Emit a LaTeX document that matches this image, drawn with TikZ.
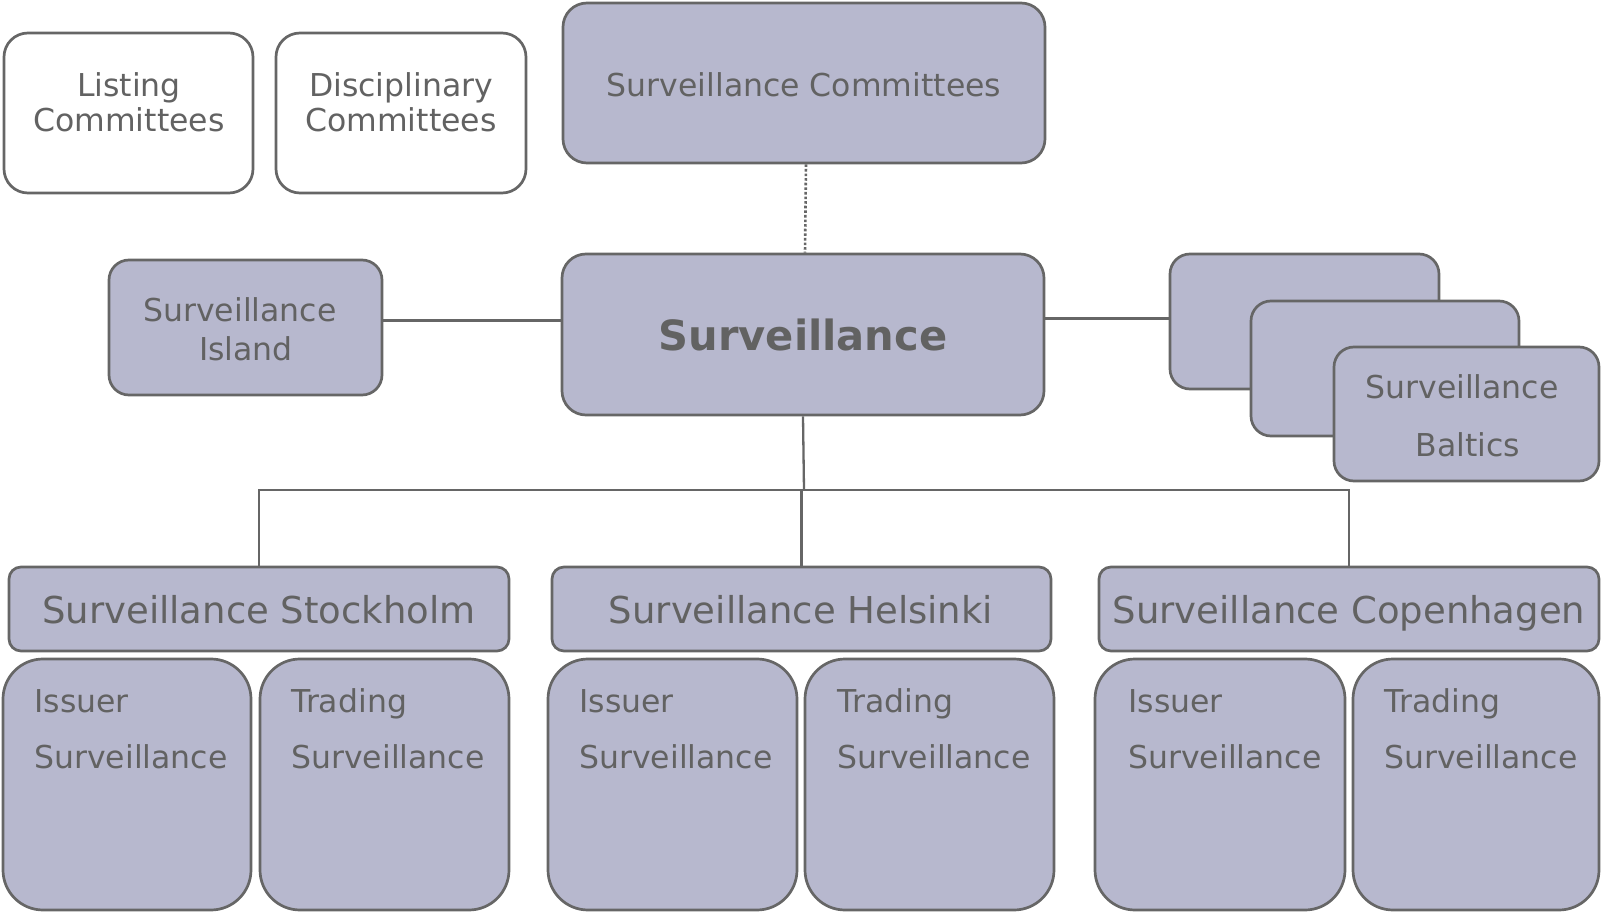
\documentclass[tikz,border=0pt]{standalone}
\usepackage{fontspec}
\setmainfont{DejaVu Sans}
\usetikzlibrary{fit}
\definecolor{fillc}{HTML}{B7B8CE}
\definecolor{bordc}{HTML}{666666}
\definecolor{txtc}{HTML}{626262}
\begin{document}
\begin{tikzpicture}[x=0.5pt,y=-0.5pt,
 box/.style={draw=bordc, fill=fillc, line width=1.35pt, inner sep=0pt, rounded corners=12pt},
 wbox/.style={box, fill=white},
 hbox/.style={box, rounded corners=6pt},
 tbox/.style={box, rounded corners=20pt},
 sbox/.style={box, rounded corners=10pt},
 txt/.style={text=txtc, inner sep=0pt, font=\fontsize{15.75pt}{17pt}\selectfont},
 htxt/.style={txt, font=\fontsize{18.5pt}{20pt}\selectfont},
 btxt/.style={txt, font=\fontsize{20.8pt}{22pt}\selectfont\bfseries},
 link/.style={draw=bordc, line width=1.15pt}]
\useasboundingbox (0,0) rectangle (1602,914);

% top row
\node[wbox, fit={(4,33) (253,193)}] (listing) {};
\node[wbox, fit={(276,33) (526,193)}] (disc) {};
\node[box, fit={(563,3) (1045,163)}] (comm) {};
\node[txt, anchor=base] (tListing1) at (129,97) {Listing};
\node[txt, anchor=base] (tListing2) at (129,132) {Committees};
\node[txt, anchor=base] (tDisc1) at (401,97) {Disciplinary};
\node[txt, anchor=base] (tDisc2) at (401,132) {Committees};
\node[txt, anchor=base] (tComm) at (804,97) {Surveillance Committees};

% middle row
\node[box, fit={(562,254) (1044,415)}] (main) {};
\node[btxt, anchor=base] (tMain) at (803,351) {Surveillance};
\node[sbox, fit={(109,260) (382,395)}] (island) {};
\node[txt, anchor=base] (tIsl1) at (240,322) {Surveillance};
\node[txt, anchor=base] (tIsl2) at (246,361) {Island};

\node[sbox, fit={(1170,254) (1439,389)}] (r1) {};
\node[sbox, fit={(1251,301) (1519,436)}] (r2) {};
\node[sbox, fit={(1334,347) (1599,481)}] (r3) {};
\node[txt, anchor=base] (tBal1) at (1462,399) {Surveillance};
\node[txt, anchor=base] (tBal2) at (1468,457) {Baltics};

% headers
\node[hbox, fit={(9,567) (509,651)}] (stock) {};
\node[hbox, fit={(552,567) (1051,651)}] (hel) {};
\node[hbox, fit={(1099,567) (1599,651)}] (cop) {};
\node[htxt, anchor=base] (tStock) at (259,624) {Surveillance Stockholm};
\node[htxt, anchor=base] (tHel) at (801,624) {Surveillance Helsinki};
\node[htxt, anchor=base] (tCop) at (1349,624) {Surveillance Copenhagen};

% bottom boxes
\node[tbox, fit={(3,659) (251,910)}] (sIss) {};
\node[tbox, fit={(260,659) (509,910)}] (sTrd) {};
\node[tbox, fit={(548,659) (797,910)}] (hIss) {};
\node[tbox, fit={(805,659) (1054,910)}] (hTrd) {};
\node[tbox, fit={(1095,659) (1345,910)}] (cIss) {};
\node[tbox, fit={(1353,659) (1599,910)}] (cTrd) {};
\foreach \n/\x/\w in {sIss/34/Issuer, sTrd/291/Trading, hIss/579/Issuer, hTrd/837/Trading, cIss/1128/Issuer, cTrd/1384/Trading}{
  \node[txt, anchor=base west] (t\n1) at (\x,712) {\w};
  \node[txt, anchor=base west] (t\n2) at (\x,768) {Surveillance};
}

% connectors
\draw[link, line width=1.3pt, densely dotted] ([xshift=1pt]comm.south) -- ([xshift=1pt]main.north);
\draw[link] ([yshift=3.5pt]island.east) -- ([yshift=3.5pt]island.east -| main.west);
\draw[link] ([yshift=1.5pt]r1.west) -- ([yshift=1.5pt]r1.west -| main.east);
\coordinate (bus) at (804,490);
\draw[link] (main.south) -- (bus);
\draw[link] (stock.north) -- (stock.north |- bus) -- (cop.north |- bus) -- (cop.north);
\draw[link] (hel.north) -- (hel.north |- bus);
\end{tikzpicture}
\end{document}
